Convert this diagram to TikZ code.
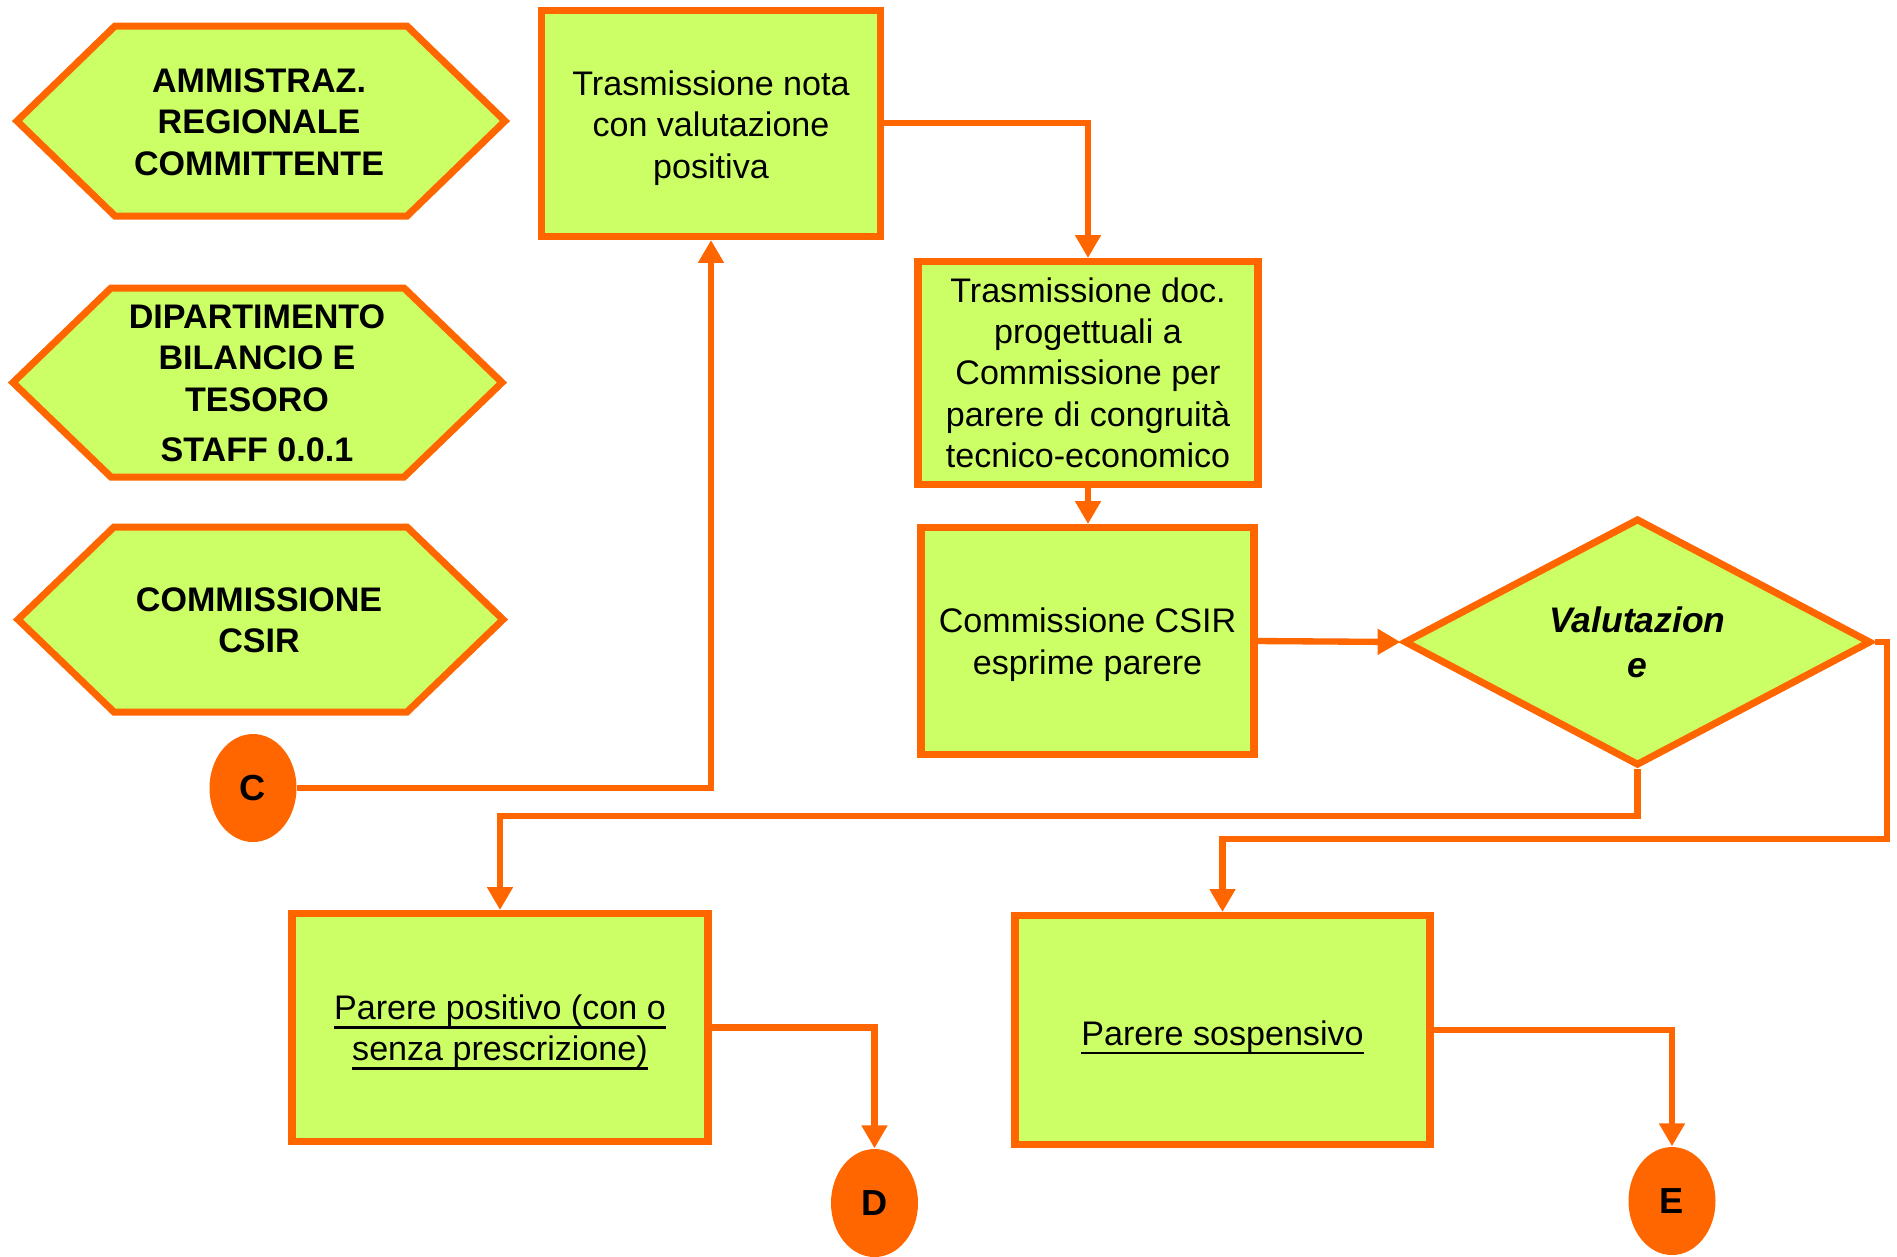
\documentclass[tikz,border=0pt]{standalone}
\usepackage{fontspec}
\setmainfont{Liberation Sans}
\usetikzlibrary{shapes.geometric,arrows.meta}
\definecolor{lineorange}{HTML}{FF6600}
\definecolor{boxgreen}{HTML}{CCFF66}
\newcommand{\ulin}[1]{\setbox0\hbox{#1}\rlap{\raisebox{-2.6pt}{\rule{\wd0}{0.8pt}}}\box0}
\newcommand{\capstrut}[1]{\rule{0pt}{#1}}

\begin{document}
\begin{tikzpicture}[x=0.1mm, y=0.1mm,
  box/.style={rectangle, draw=lineorange, fill=boxgreen, line width=2pt, inner sep=0pt, align=center, font=\fontsize{9.7}{11.8}\selectfont},
  hexa/.style={draw=lineorange, fill=boxgreen, line width=2pt, line join=miter},
  lbl/.style={inner sep=0pt, align=center, font=\fontsize{9.7}{11.8}\selectfont\bfseries},
  choice/.style={diamond, draw=lineorange, fill=boxgreen, line width=2pt, inner sep=0pt, align=center, minimum width=46.7mm, minimum height=23.3mm, font=\fontsize{10.1}{12.8}\selectfont\bfseries\itshape},
  link/.style={ellipse, fill=lineorange, inner sep=0pt, minimum width=8.7mm, minimum height=10.8mm, font=\fontsize{10.3}{12}\selectfont\bfseries},
  conn/.style={draw=lineorange, line width=1.8pt, -{Triangle[length=6.5pt,width=7pt]}}]
\useasboundingbox (0,0) rectangle (1897,-1256);
% actors
\draw [hexa] (17,-121) -- (115,-26) -- (407,-26) -- (505,-121) -- (407,-216) -- (115,-216) -- cycle;
\node [lbl] (ammin) at (259,-122) {AMMISTRAZ.\\REGIONALE\\COMMITTENTE};
\draw [hexa] (13,-382.5) -- (111,-288) -- (404,-288) -- (502,-382.5) -- (404,-477) -- (111,-477) -- cycle;
\node [lbl] (dipart) at (257,-383) {DIPARTIMENTO\\BILANCIO E\\TESORO\\[2.4pt]STAFF 0.0.1};
\draw [hexa] (18,-619.5) -- (114,-527) -- (407,-527) -- (503,-619.5) -- (407,-712) -- (114,-712) -- cycle;
\node [lbl] (commis) at (259,-620) {COMMISSIONE\\CSIR};
% steps
\node [box, minimum width=33.9mm, minimum height=22.65mm] (nota) at (711,-123.25) {\capstrut{9.8pt}Trasmissione nota\\con valutazione\\positiva};
\node [box, minimum width=34mm, minimum height=22.25mm] (docs) at (1088,-372.75) {Trasmissione doc.\\progettuali a\\Commissione per\\parere di congruit\`a\\tecnico-economico};
\node [box, minimum width=33.3mm, minimum height=22.7mm] (csir) at (1087.5,-641) {\capstrut{9.1pt}Commissione CSIR\\esprime parere};
\node [choice] (valut) at (1637.5,-642) {Valutazion\\e};
\node [box, minimum width=41.6mm, minimum height=22.8mm] (posit) at (500,-1027.5) {\capstrut{9.8pt}\ulin{Parere positivo (con o}\\\ulin{senza prescrizione)}};
\node [box, minimum width=41.5mm, minimum height=22.9mm] (sosp) at (1222.5,-1030) {\capstrut{11.3pt}\ulin{Parere sospensivo}};
% connectors
\node [link] (C) at (253,-788) {C};
\node [link] (D) at (874.5,-1203) {D};
\node [link] (E) at (1672,-1201) {E};
\coordinate (j1) at (1637.5,-816);
\coordinate (j2) at (1887,-839);
\draw [conn] (C.east) -| (nota.south);
\draw [conn] (nota.east) -| (docs.north);
\draw [conn] (docs.south) -- (docs.south |- csir.north);
\draw [conn] (csir.east) -- (valut.west);
\draw [conn] (valut.south) -- (j1) -| (posit.north);
\draw [conn] (valut.east) -| (j2) -| (sosp.north);
\draw [conn] (posit.east) -| (D.north);
\draw [conn] (sosp.east) -| (E.north);
\end{tikzpicture}
\end{document}
